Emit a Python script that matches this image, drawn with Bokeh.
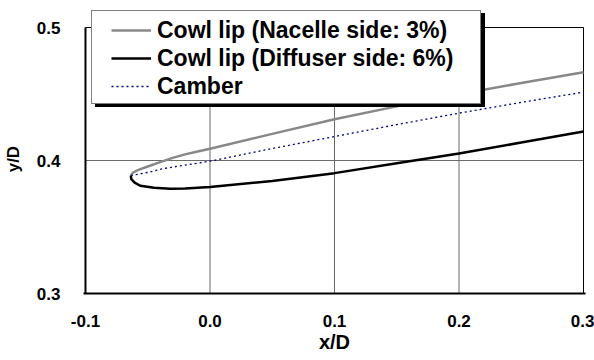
from bokeh.plotting import figure
from bokeh.models import Range1d, FixedTicker, PrintfTickFormatter, Legend, LegendItem
from bokeh.embed import file_html
from bokeh.resources import INLINE

# ---- data ----
nacelle_x = [-0.0636, -0.062, -0.058, -0.05, -0.04, -0.03, -0.02, -0.01, 0.0, 0.05, 0.1, 0.15, 0.2, 0.25, 0.3]
nacelle_y = [0.3887, 0.3908, 0.3928, 0.3955, 0.3988, 0.4020, 0.4046, 0.4068, 0.4089, 0.4200, 0.4310, 0.4407, 0.4498, 0.4583, 0.4664]

diffuser_x = [-0.0636, -0.0632, -0.0605, -0.056, -0.045, -0.032, -0.02, 0.0, 0.05, 0.1, 0.15, 0.2, 0.25, 0.3]
diffuser_y = [0.3887, 0.3860, 0.3833, 0.3810, 0.3795, 0.3787, 0.3789, 0.3800, 0.3846, 0.3905, 0.3980, 0.4053, 0.4135, 0.4218]

camber_x = [-0.0636, -0.05, -0.037, 0.0, 0.05, 0.1, 0.15, 0.2, 0.25, 0.3]
camber_y = [0.3887, 0.3910, 0.3940, 0.3995, 0.4090, 0.4180, 0.4270, 0.4356, 0.4437, 0.4514]

x_ticks = [-0.1, 0.0, 0.1, 0.2, 0.3]
y_ticks = [0.3, 0.4, 0.5]
x_grid = [0.0, 0.1, 0.2]
y_grid = [0.4]
series_labels = ["Cowl lip (Nacelle side: 3%)", "Cowl lip (Diffuser side: 6%)", "Camber"]

FONT = "Liberation Sans"

# plot box in pixels: x 81..583, y 27..293; the frame is extended a little
# (2 px left/right, up to y=10) so the legend, which overhangs the box, is not clipped
X0, X1 = x_ticks[0], x_ticks[-1]
Y0, Y1 = y_ticks[0], y_ticks[-1]
px_x = (X1 - X0) / 502.0
px_y = (Y1 - Y0) / 266.0

p = figure(width=594, height=360, output_backend="svg", toolbar_location=None,
           x_range=Range1d(X0 - 2 * px_x, X1 + 2 * px_x),
           y_range=Range1d(Y0, Y1 + 17 * px_y),
           min_border_left=79, min_border_right=9, min_border_top=10, min_border_bottom=67,
           x_axis_label="x/D", y_axis_label="y/D\u00a0\u00a0\u00a0")
p.background_fill_color = "white"
p.border_fill_color = "white"
p.outline_line_color = None

for ax in (p.xaxis[0], p.yaxis[0]):
    ax.axis_line_color = "black"
    ax.axis_line_width = 2
    ax.major_tick_in = 0
    ax.major_tick_out = 0
    ax.minor_tick_in = 0
    ax.minor_tick_out = 0
    ax.major_label_text_font = FONT
    ax.major_label_text_font_style = "bold"
    ax.major_label_text_font_size = "17px"
    ax.major_label_text_color = "black"
    ax.axis_label_text_font = FONT
    ax.axis_label_text_font_style = "bold"
    ax.axis_label_text_color = "black"
    ax.formatter = PrintfTickFormatter(format="%.1f")

p.yaxis[0].axis_line_color = None
p.xaxis[0].axis_label_text_font_size = "20px"
p.yaxis[0].axis_label_text_font_size = "17px"
p.xaxis[0].ticker = FixedTicker(ticks=x_ticks)
p.yaxis[0].ticker = FixedTicker(ticks=y_ticks)
p.xaxis[0].major_label_standoff = 21
p.xaxis[0].axis_label_standoff = 1
p.yaxis[0].major_label_standoff = 23
p.yaxis[0].axis_label_standoff = 11

p.xgrid[0].visible = False
p.ygrid[0].visible = False

# grid lines and plot-box border, drawn within the tick limits
p.segment(x0=x_grid, y0=Y0, x1=x_grid, y1=Y1, line_color="#6a6a6a", line_width=1)
p.segment(x0=X0, y0=y_grid, x1=X1, y1=y_grid, line_color="#6a6a6a", line_width=1)
p.segment(x0=[X0, X1], y0=[Y1, Y0], x1=[X1, X1], y1=[Y1, Y1], line_color="black", line_width=1)
p.segment(x0=X0, y0=Y0, x1=X0, y1=Y1, line_color="black", line_width=2)

r_n = p.line(nacelle_x, nacelle_y, line_color="#888888", line_width=2.5)
r_d = p.line(diffuser_x, diffuser_y, line_color="black", line_width=2.5)
r_c = p.line(camber_x, camber_y, line_color="#000080", line_width=1.3, line_dash="2 3")
dummy = p.line(x=[], y=[], line_alpha=0)

common = dict(padding=4, spacing=0, label_height=28, glyph_height=28, margin=0,
              label_text_font=FONT, label_text_font_style="bold",
              label_text_font_size="23px", label_text_color="black")

blank = "\u00a0"
shadow = Legend(items=[LegendItem(label=blank, renderers=[dummy]) for _ in series_labels],
                location=(12, 186), background_fill_color="black", background_fill_alpha=1,
                border_line_color="black", border_line_width=1,
                glyph_width=78, label_standoff=6, label_width=296, **common)
box = Legend(items=[LegendItem(label=blank, renderers=[dummy]) for _ in series_labels],
             location=(8, 189), background_fill_color="white", background_fill_alpha=1,
             border_line_color="black", border_line_width=1.5,
             glyph_width=78, label_standoff=6, label_width=296, **common)
content = Legend(items=[LegendItem(label=series_labels[0], renderers=[r_n]),
                        LegendItem(label=series_labels[1], renderers=[r_d]),
                        LegendItem(label=series_labels[2], renderers=[r_c])],
                 location=(24, 189), background_fill_alpha=0, border_line_alpha=0,
                 glyph_width=40, label_standoff=6, **common)
p.add_layout(shadow, "center")
p.add_layout(box, "center")
p.add_layout(content, "center")

open("out.html", "w").write(file_html(p, INLINE))
